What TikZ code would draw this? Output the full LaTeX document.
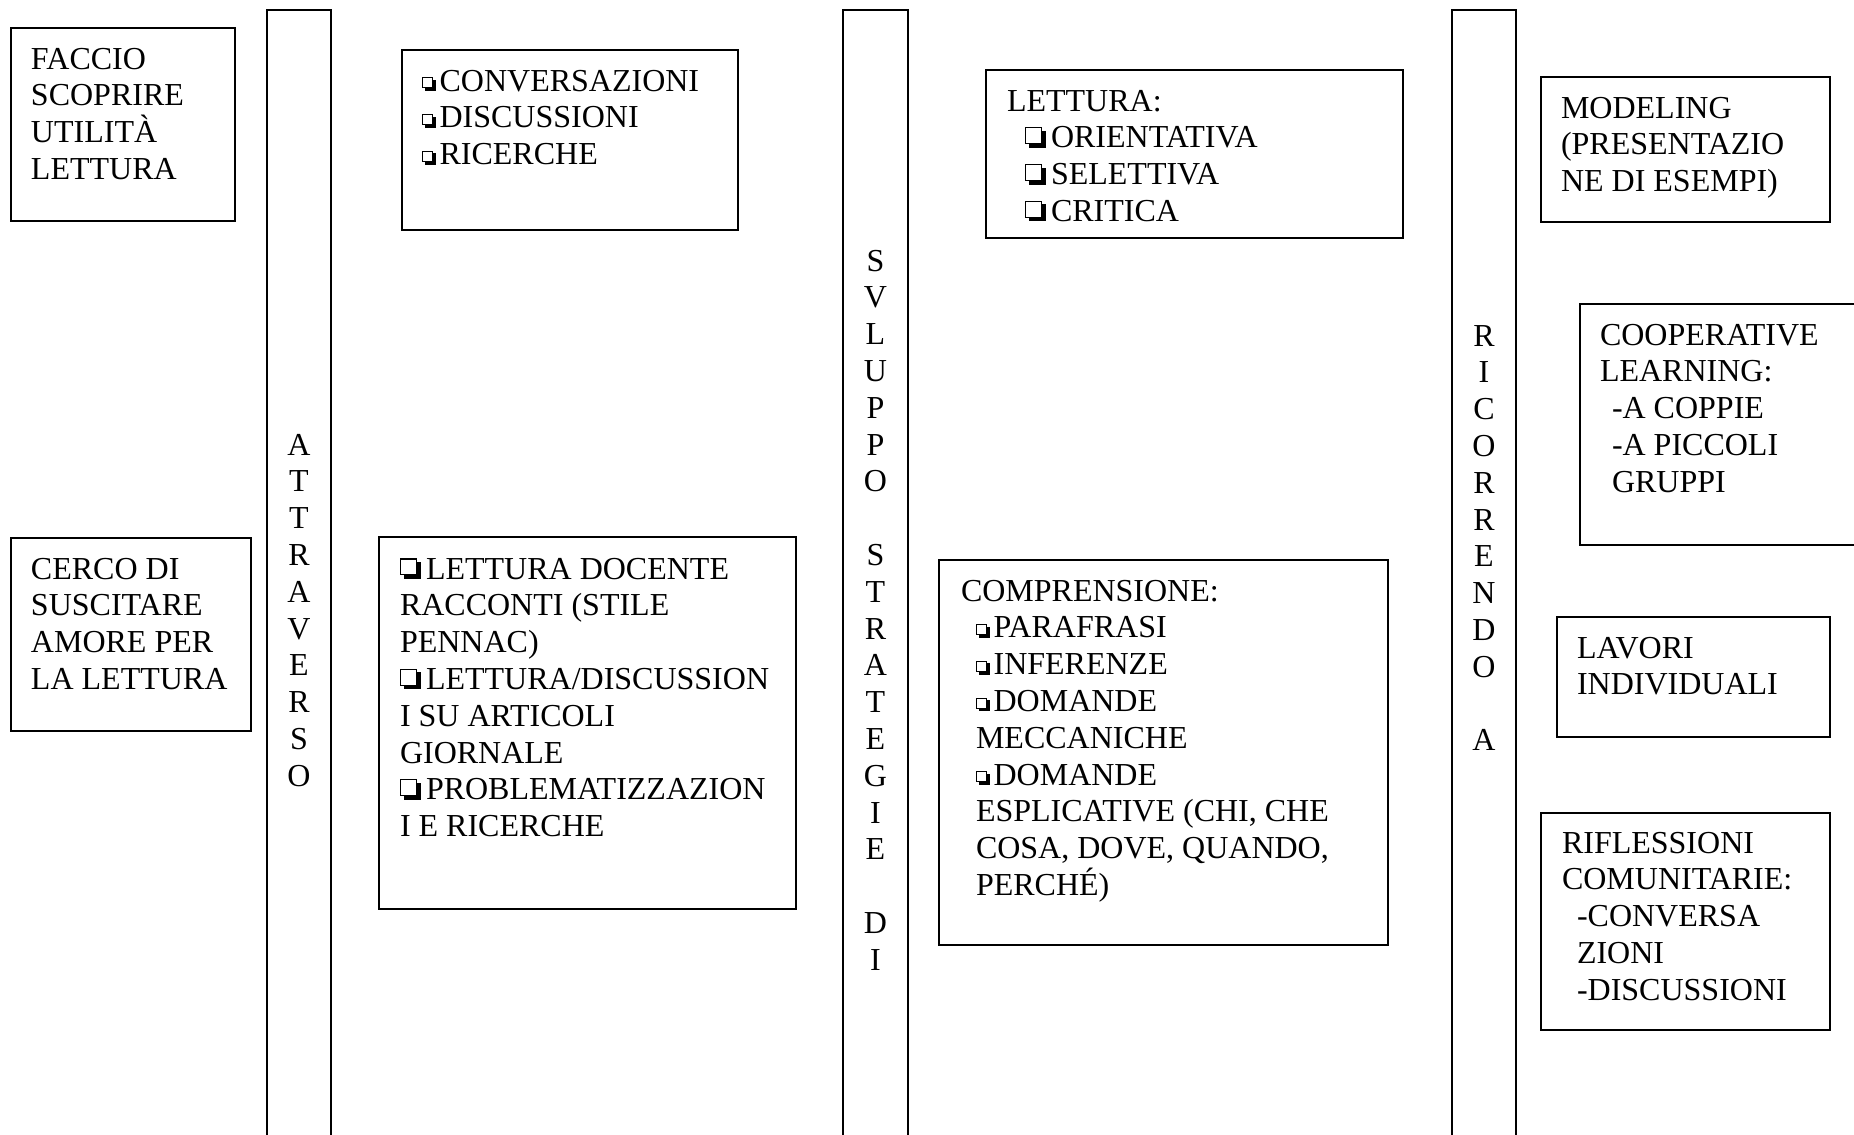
\documentclass[tikz,border=0pt]{standalone}
\usepackage{fontspec}
\setmainfont{Liberation Serif}
\newcommand{\bigq}{\rlap{\hspace{1.8pt}\rule{8.5pt}{8.5pt}}\rlap{\raisebox{1.8pt}{\rule{8.5pt}{8.5pt}}}\rlap{\hspace{0.6pt}\raisebox{2.4pt}{\color{white}\rule{7.3pt}{7.3pt}}}\hspace{13pt}}
\newcommand{\smq}{\rlap{\hspace{1.3pt}\rule{5.6pt}{5.6pt}}\rlap{\raisebox{1.3pt}{\rule{5.6pt}{5.6pt}}}\rlap{\hspace{0.5pt}\raisebox{1.8pt}{\color{white}\rule{4.6pt}{4.6pt}}}\hspace{8.8pt}}
\newcommand{\lines}[1]{\begin{tabular}[t]{@{}l@{}}#1\end{tabular}}
\newcommand{\vlines}[1]{\begin{tabular}[t]{@{}c@{}}#1\end{tabular}}
\begin{document}
\begin{tikzpicture}[x=0.5pt,y=-0.5pt,
  box/.style={draw=black, line width=1.3pt, inner sep=0pt, outer sep=0pt, anchor=north west},
  txt/.style={inner sep=0pt, outer sep=0pt, anchor=base west, font=\fontsize{16pt}{18.4pt}\selectfont},
  vtxt/.style={inner sep=0pt, outer sep=0pt, anchor=base, font=\fontsize{16pt}{18.4pt}\selectfont}]
\fill[white] (0,0) rectangle (1854,1135);
\useasboundingbox (0,0) rectangle (1854,1135);

% vertical bars (open at the bottom)
\node[box, minimum width=32pt, minimum height=575pt] (bar1) at (267,10) {};
\node[box, minimum width=32.5pt, minimum height=575pt] (bar2) at (843,10) {};
\node[box, minimum width=32pt, minimum height=575pt] (bar3) at (1452,10) {};
\node[vtxt] (bar1t) at (299,455) {\vlines{A\\T\\T\\R\\A\\V\\E\\R\\S\\O}};
\node[vtxt] (bar2t) at (875.5,271) {\vlines{S\\V\\L\\U\\P\\P\\O\\ \\S\\T\\R\\A\\T\\E\\G\\I\\E\\ \\D\\I}};
\node[vtxt] (bar3t) at (1484,346) {\vlines{R\\I\\C\\O\\R\\R\\E\\N\\D\\O\\ \\A}};

% boxes
\node[box, minimum width=112pt, minimum height=96.5pt] (faccio) at (11,28) {};
\node[box, minimum width=120pt, minimum height=96.5pt] (cerco) at (11,538) {};
\node[box, minimum width=168pt, minimum height=90pt] (conv) at (402,50) {};
\node[box, minimum width=208.5pt, minimum height=186pt] (docente) at (379,537) {};
\node[box, minimum width=208.5pt, minimum height=84pt] (lettura) at (986,70) {};
\node[box, minimum width=224.5pt, minimum height=192.5pt] (compr) at (939,560) {};
\node[box, minimum width=144.5pt, minimum height=72.5pt] (modeling) at (1541,77) {};
\node[box, minimum width=145pt, minimum height=120.5pt] (coop) at (1580,304) {};
\node[box, minimum width=136.5pt, minimum height=60pt] (lavori) at (1557,617) {};
\node[box, minimum width=144.5pt, minimum height=108.5pt] (rifl) at (1541,813) {};

% texts
\node[txt] (facciot) at (31,69) {\lines{FACCIO\\SCOPRIRE\\UTILIT\smash{À}\\LETTURA}};
\node[txt] (cercot) at (31,579) {\lines{CERCO DI\\SUSCITARE\\AMORE PER\\LA LETTURA}};
\node[txt] (convt) at (422,91) {\lines{\smq CONVERSAZIONI\\\smq DISCUSSIONI\\\smq RICERCHE}};
\node[txt] (docentet) at (400,579) {\lines{\bigq LETTURA DOCENTE\\RACCONTI (STILE\\PENNAC)\\\bigq LETTURA/DISCUSSION\\I SU ARTICOLI\\GIORNALE\\\bigq PROBLEMATIZZAZION\\I E RICERCHE}};
\node[txt] (letturat) at (1007,111) {\lines{LETTURA:\\\hspace{9pt}\bigq ORIENTATIVA\\\hspace{9pt}\bigq SELETTIVA\\\hspace{9pt}\bigq CRITICA}};
\node[txt] (comprt) at (961,601) {\lines{COMPRENSIONE:\\\hspace{7.5pt}\smq PARAFRASI\\\hspace{7.5pt}\smq INFERENZE\\\hspace{7.5pt}\smq DOMANDE\\\hspace{7.5pt}MECCANICHE\\\hspace{7.5pt}\smq DOMANDE\\\hspace{7.5pt}ESPLICATIVE (CHI, CHE\\\hspace{7.5pt}COSA, DOVE, QUANDO,\\\hspace{7.5pt}PERCH\smash{É})}};
\node[txt] (modelingt) at (1561,118) {\lines{MODELING\\(PRESENTAZIO\\NE DI ESEMPI)}};
\node[txt] (coopt) at (1600,345) {\lines{COOPERATIVE\\LEARNING:\\\hspace{6pt}-A COPPIE\\\hspace{6pt}-A PICCOLI\\\hspace{6pt}GRUPPI}};
\node[txt] (lavorit) at (1577,658) {\lines{LAVORI\\INDIVIDUALI}};
\node[txt] (riflt) at (1562,853) {\lines{RIFLESSIONI\\COMUNITARIE:\\\hspace{7.5pt}-CONVERSA\\\hspace{7.5pt}ZIONI\\\hspace{7.5pt}-DISCUSSIONI}};
\end{tikzpicture}
\end{document}
